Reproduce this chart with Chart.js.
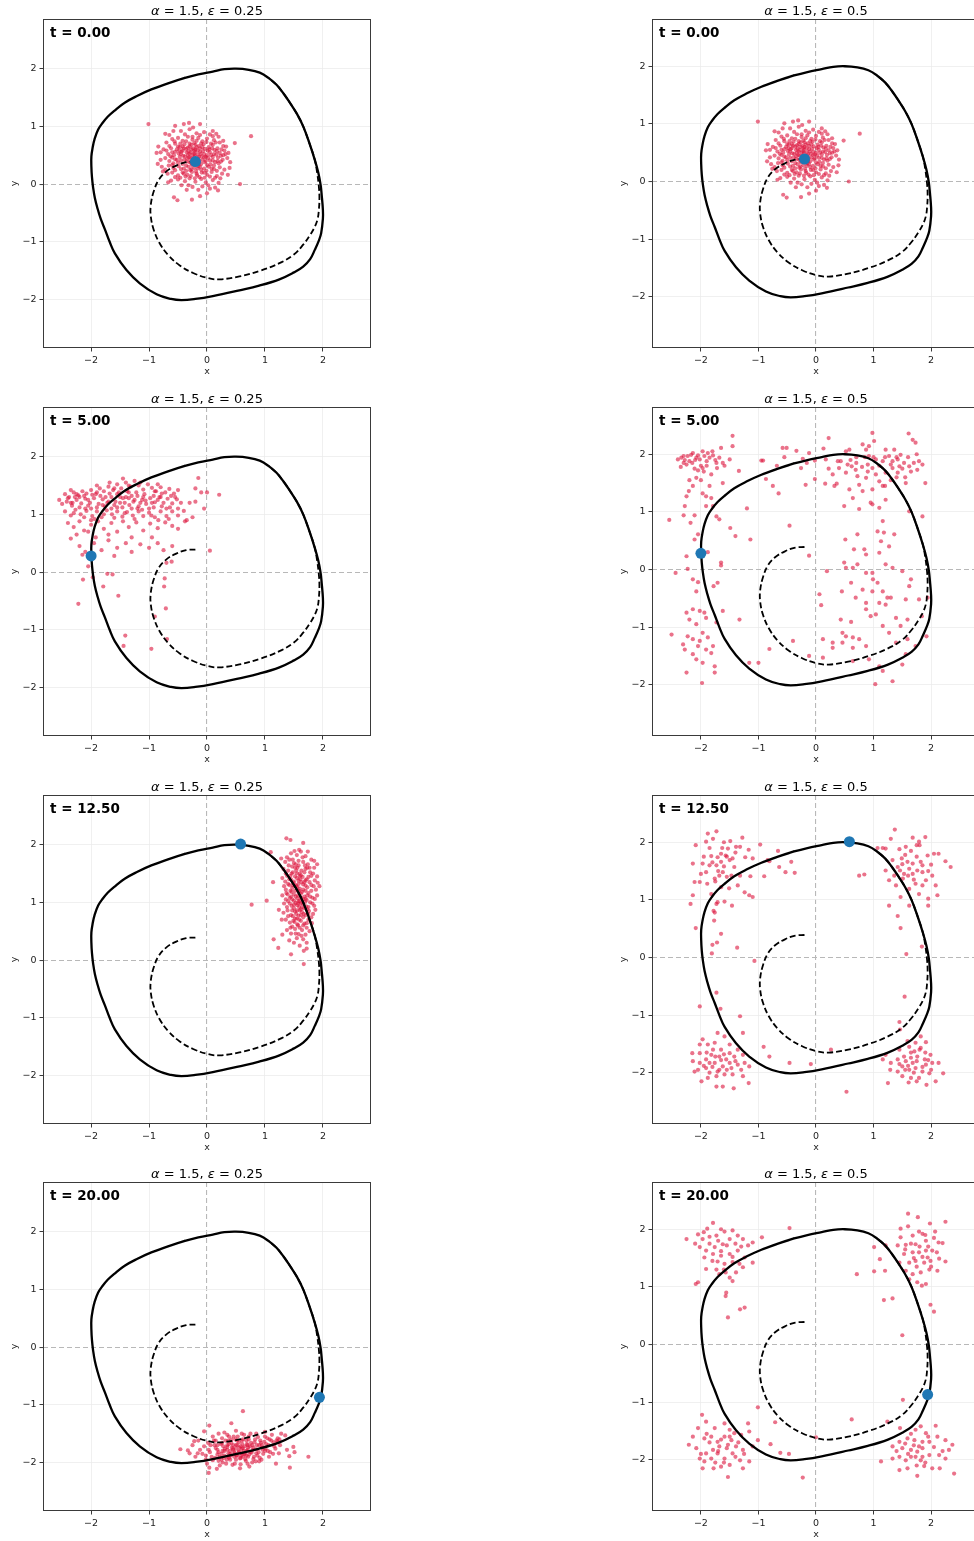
<!DOCTYPE html>
<html>
<head>
<meta charset="utf-8">
<script src="https://cdn.jsdelivr.net/npm/chart.js@4.4.1/dist/chart.umd.min.js"></script>
<style>
  html, body { margin: 0; padding: 0; background: #fff; }
  body { width: 974px; height: 1541px; overflow: hidden; position: relative; }
  canvas { position: absolute; }
</style>
</head>
<body>
<script>
// values
const alphaVals = [1.5, 1.5];
const epsVals = [0.25, 0.5];
const tVals = [0, 5, 12.5, 20];
const xTicks = [-2, -1, 0, 1, 2];
const yTicks = [-2, -1, 0, 1, 2];

// limit cycle (solid), first three points repeated at the end to close it
const limitCycle = [
  [-0.38,1.84],[-0.66,1.75],[-0.96,1.64],[-1.2,1.53],[-1.42,1.41],[-1.6,1.27],
  [-1.71,1.17],[-1.81,1.05],[-1.88,0.94],[-1.94,0.78],[-1.97,0.65],[-1.995,0.48],[-1.995,0.3],[-1.985,0.12],[-1.965,-0.06],[-1.935,-0.24],
  [-1.89,-0.42],[-1.835,-0.6],[-1.76,-0.79],[-1.68,-1.0],[-1.59,-1.2],[-1.39,-1.49],[-1.16,-1.72],[-0.87,-1.91],[-0.62,-1.99],[-0.44,-2.01],[-0.2,-1.99],[0.1,-1.94],
  [0.56,-1.84],[0.9,-1.76],[1.25,-1.65],[1.5,-1.53],[1.66,-1.43],[1.78,-1.3],[1.86,-1.14],[1.93,-0.98],[1.97,-0.85],[2.0,-0.6],
  [2.0,-0.45],[1.98,-0.2],[1.96,-0.01],[1.92,0.2],[1.86,0.42],[1.77,0.7],[1.66,1.0],[1.55,1.22],[1.43,1.41],[1.32,1.57],
  [1.2,1.72],[1.06,1.84],[0.91,1.93],[0.72,1.98],[0.5,2.0],[0.3,1.99],[0.1,1.95],[-0.15,1.9],
  [-0.38,1.84],[-0.66,1.75],[-0.96,1.64]
];

// trajectory of the mean (dashed)
const meanPath = [
  [-0.2,0.39],[-0.36,0.38],[-0.53,0.32],[-0.7,0.22],[-0.83,0.08],[-0.92,-0.13],[-0.97,-0.36],[-0.97,-0.56],
  [-0.92,-0.79],[-0.82,-1.02],[-0.67,-1.23],[-0.47,-1.41],[-0.24,-1.54],[0.02,-1.63],[0.22,-1.65],[0.56,-1.6],
  [0.92,-1.5],[1.25,-1.37],[1.5,-1.22],[1.66,-1.05],[1.78,-0.88],[1.86,-0.74],[1.91,-0.6],[1.93,-0.45],
  [1.94,-0.25],[1.93,-0.04],[1.9,0.2],[1.86,0.42],[1.77,0.7],[1.66,1.0],[1.55,1.22],[1.43,1.41],[1.32,1.57],
  [1.2,1.72],[1.06,1.84]
];

// reference point at each time
const meanPos = [[-0.2,0.39],[-2.0,0.28],[0.58,2.01],[1.94,-0.87]];

// ensemble at t = 0 (same start for both noise levels)
const cloudT0 = [
  [-1.01,1.04],[0.76,0.83],[0.48,0.71],[0.57,0.0],[-0.51,-0.28],[-0.57,-0.23],[-0.26,-0.27],[-0.12,-0.21],[0.0,-0.16],[0.19,-0.11],
  [-0.72,0.87],[-0.55,1.01],[-0.4,1.04],[-0.31,1.06],[-0.12,1.04],[0.1,0.83],[0.16,0.87],[0.33,0.65],[0.37,0.54],[0.39,0.28],
  [0.36,0.16],[-0.76,0.22],[-0.67,0.03],[-0.87,0.54],[-0.84,0.65],
  [-0.45,0.92],[-0.3,0.95],[-0.18,0.88],[-0.05,0.9],[0.05,0.86],[-0.38,0.86],
  [-0.6,0.78],[-0.5,0.8],[-0.42,0.75],[-0.33,0.82],[-0.25,0.77],[-0.15,0.8],[-0.08,0.74],[0.0,0.79],[0.12,0.76],[0.22,0.72],[-0.7,0.72],
  [-0.65,0.66],[-0.55,0.7],[-0.47,0.64],[-0.39,0.69],[-0.3,0.65],[-0.22,0.71],[-0.14,0.66],[-0.06,0.69],[0.03,0.64],[0.1,0.68],[0.18,0.62],[0.28,0.66],[-0.75,0.6],
  [-0.8,0.55],[-0.7,0.58],[-0.6,0.55],[-0.52,0.6],[-0.44,0.56],[-0.36,0.61],[-0.28,0.55],[-0.2,0.6],[-0.12,0.56],[-0.04,0.61],[0.05,0.55],[0.13,0.59],[0.22,0.54],[0.3,0.58],[-0.33,0.5],[-0.16,0.51],[0.0,0.5],
  [-0.72,0.45],[-0.63,0.48],[-0.55,0.43],[-0.47,0.47],[-0.39,0.42],[-0.31,0.46],[-0.24,0.44],[-0.14,0.47],[-0.08,0.42],[0.02,0.45],[0.1,0.41],[0.19,0.46],[0.27,0.42],[0.35,0.45],
  [-0.5,0.37],[-0.42,0.35],[-0.27,0.36],[-0.1,0.35],[0.06,0.34],[0.2,0.36],
  [-0.78,0.3],[-0.66,0.32],[-0.58,0.28],[-0.49,0.31],[-0.4,0.27],[-0.32,0.3],[-0.22,0.28],[-0.15,0.31],[-0.05,0.27],[0.03,0.3],[0.12,0.26],[0.22,0.29],[0.3,0.25],
  [-0.68,0.18],[-0.6,0.2],[-0.5,0.15],[-0.42,0.2],[-0.34,0.16],[-0.26,0.21],[-0.17,0.15],[-0.09,0.2],[0.0,0.16],[0.08,0.21],[0.17,0.14],[0.26,0.18],
  [-0.62,0.06],[-0.5,0.08],[-0.38,0.05],[-0.3,0.1],[-0.2,0.04],[-0.1,0.09],[-0.02,0.03],[0.1,0.07],[0.2,0.02],[-0.44,-0.02],[-0.25,-0.05],[-0.08,-0.04],[0.14,-0.06],[-0.35,-0.1],[0.05,-0.08],
  [-0.35,0.55],[-0.25,0.5],[-0.18,0.42],[-0.05,0.52],[-0.3,0.38],[-0.12,0.62],[-0.4,0.62],[-0.22,0.58],
  [-0.56,0.74],[-0.46,0.7],[-0.36,0.74],[-0.27,0.68],[-0.18,0.75],[-0.1,0.7],[-0.01,0.73],[0.07,0.7],[0.15,0.72],
  [-0.62,0.62],[-0.5,0.65],[-0.42,0.58],[-0.33,0.63],[-0.24,0.62],[-0.16,0.58],[-0.08,0.64],[0.01,0.58],[0.09,0.62],[0.17,0.57],[0.25,0.6],
  [-0.67,0.52],[-0.57,0.5],[-0.49,0.53],[-0.41,0.49],[-0.3,0.52],[-0.21,0.49],[-0.11,0.52],[-0.02,0.47],[0.07,0.5],[0.16,0.51],[0.24,0.49],[0.32,0.52],
  [-0.65,0.4],[-0.58,0.36],[-0.45,0.41],[-0.35,0.39],[-0.2,0.37],[-0.13,0.4],[-0.04,0.38],[0.05,0.41],[0.14,0.38],[0.24,0.39],
  [-0.72,0.25],[-0.55,0.24],[-0.45,0.26],[-0.36,0.23],[-0.27,0.26],[-0.19,0.22],[-0.1,0.25],[-0.01,0.23],[0.08,0.27],[0.17,0.23],
  [-0.55,0.12],[-0.46,0.11],[-0.37,0.13],[-0.28,0.14],[-0.21,0.1],[-0.13,0.12],[-0.04,0.11],[0.05,0.13],[0.14,0.11],[0.23,0.1],
  [-0.58,0.92],[-0.24,0.98],[0.1,0.92],[-0.65,0.85],[-0.12,0.85],[0.2,0.82],[0.28,0.75],[-0.8,0.42],[-0.85,0.35],[0.4,0.38],
  [-0.15,-0.1],[-0.32,-0.02],[0.02,-0.02],
  [-0.28,0.45],[-0.22,0.52],[-0.15,0.44],[-0.32,0.57],[-0.18,0.64],[-0.26,0.33],[-0.12,0.3],[-0.38,0.48],[-0.05,0.46],[-0.23,0.4],
  [-0.3,0.7],[-0.2,0.68],[-0.45,0.52],[-0.07,0.57],[0.1,0.47],[-0.52,0.42],[-0.36,0.32],[-0.16,0.27],[0.0,0.33],[0.12,0.52],
  [-0.42,0.65],[-0.27,0.6],[-0.34,0.44],[-0.09,0.48],[-0.21,0.55],[-0.14,0.35],[-0.29,0.24],[-0.48,0.58],[0.04,0.6],[-0.02,0.4],
  [-0.6,0.46],[-0.55,0.56],[0.18,0.4],[0.12,0.32],[-0.4,0.18],[-0.18,0.18],[-0.6,0.33],[0.28,0.5],[-0.05,0.2],[-0.25,0.82]
];

// t = 5, eps = 0.25
const cloudT5Lo = [
  [-2.55,1.25],[-2.45,1.35],[-2.38,1.3],[-2.3,1.38],[-2.22,1.33],[-2.15,1.4],[-2.08,1.36],[-2.0,1.42],[-1.92,1.35],[-1.85,1.45],
  [-1.78,1.4],[-1.7,1.48],[-1.62,1.42],[-1.55,1.52],[-1.48,1.45],[-1.4,1.55],[-1.32,1.48],[-1.25,1.58],[-1.18,1.5],[-1.1,1.43],
  [-1.02,1.52],[-0.95,1.46],[-0.88,1.4],[-0.8,1.47],[-0.72,1.38],[-0.65,1.44],[-0.57,1.36],[-0.5,1.42],[-1.45,1.62],[-1.3,1.32],[-1.68,1.55],[-2.35,1.42],
  [-2.5,1.18],[-2.42,1.22],[-2.33,1.15],[-2.25,1.25],[-2.17,1.19],[-2.1,1.27],[-2.02,1.2],[-1.95,1.28],[-1.87,1.18],[-1.8,1.26],
  [-1.72,1.2],[-1.65,1.3],[-1.58,1.22],[-1.5,1.3],[-1.42,1.2],[-1.35,1.28],[-1.27,1.22],[-1.2,1.32],[-1.12,1.25],[-1.05,1.18],
  [-0.98,1.28],[-0.9,1.21],[-0.82,1.3],[-0.75,1.2],[-0.68,1.27],[-0.6,1.19],[-0.52,1.26],[-0.45,1.2],[-1.55,1.12],[-1.3,1.1],[-1.0,1.1],[-2.0,1.1],
  [-2.45,1.05],[-2.35,0.98],[-2.27,1.08],[-2.18,1.0],[-2.08,1.06],[-1.98,0.97],[-1.9,1.05],[-1.82,0.95],[-1.73,1.07],[-1.64,1.0],
  [-1.55,1.05],[-1.46,0.96],[-1.38,1.04],[-1.28,0.98],[-1.18,1.05],[-1.1,0.97],[-1.0,1.03],[-0.9,0.95],[-0.8,1.05],[-0.7,0.97],[-0.6,1.05],[-0.5,0.98],[-0.4,1.06],
  [-2.4,0.85],[-2.3,0.78],[-2.2,0.88],[-2.12,0.72],[-2.0,0.82],[-1.88,0.88],[-1.78,0.75],[-1.65,0.85],[-1.55,0.7],[-1.45,0.88],
  [-1.35,0.78],[-1.22,0.86],[-1.1,0.72],[-0.98,0.84],[-0.85,0.76],[-0.72,0.86],[-0.6,0.8],[-0.5,0.75],[-0.38,0.88],[-0.25,0.95],[-2.25,0.65],[-1.92,0.6],
  [-2.35,0.58],[-2.2,0.45],[-2.1,0.35],[-1.95,0.5],[-1.82,0.38],[-1.7,0.55],[-1.55,0.42],[-1.4,0.5],[-1.3,0.35],[-1.15,0.48],
  [-1.0,0.42],[-0.85,0.5],[-0.75,0.38],[-0.6,0.45],[-2.15,0.3],[-1.6,0.28],
  [-0.15,1.63],[-0.2,1.45],[-0.1,1.38],[0.0,1.38],[0.21,1.34],[-0.3,1.2],[-0.05,1.1],[0.05,0.37],[-0.35,0.9],[-0.2,1.22],
  [-2.22,-0.55],[-1.53,-0.41],[-1.72,-0.03],[-1.63,-0.04],[-1.97,-0.09],[-2.14,-0.13],[-1.79,-0.25],[-2.05,0.1],[-1.41,-1.1],[-1.44,-1.28],
  [-0.96,-1.33],[-0.71,-0.63],[-0.74,-0.25],[-0.73,-0.11],[-0.7,0.16],[-0.61,0.18],[-0.69,-1.16],[-0.9,-0.77],
  [-2.4,1.28],[-2.28,1.3],[-2.12,1.32],[-1.98,1.34],[-1.84,1.32],[-1.68,1.36],[-1.52,1.38],[-1.38,1.4],[-1.22,1.38],[-1.08,1.35],[-0.92,1.32],[-0.78,1.36],[-0.62,1.32],
  [-2.32,1.2],[-2.2,1.12],[-2.05,1.15],[-1.9,1.12],[-1.76,1.14],[-1.6,1.16],[-1.46,1.12],[-1.34,1.16],[-1.18,1.14],[-1.06,1.24],[-0.92,1.12],[-0.78,1.14],[-0.64,1.12],[-0.5,1.1],
  [-2.3,1.02],[-2.12,0.95],[-1.94,0.92],[-1.78,1.0],[-1.6,0.94],[-1.42,1.02],[-1.25,0.92],[-1.12,1.08],[-0.96,0.98],[-0.84,0.9],[-0.66,0.92],
  [-1.9,1.5],[-1.6,1.45],[-1.35,1.5],[-1.15,1.55],[-0.85,1.52],[-1.75,1.3],[-1.45,1.28],[-1.15,1.2],[-0.85,1.25],[-0.55,1.3],
  [-2.0,0.9],[-1.7,0.65],[-1.3,0.6],[-0.95,0.6],[-2.05,0.7],
  [-2.2,1.3],[-2.05,1.25],[-1.9,1.38],[-1.7,1.22],[-1.55,1.35],[-1.4,1.3],[-1.25,1.25],[-1.1,1.3],[-0.95,1.2],[-0.8,1.3],
  [-2.35,1.2],[-2.1,1.1],[-1.8,1.16],[-1.5,1.2],[-1.2,1.1],[-0.9,1.4],[-0.7,1.1],[-1.65,1.1],[-2.25,1.35],[-1.35,1.38]
];

// t = 5, eps = 0.5
const cloudT5Hi = [
  [-2.4,1.91],[-2.34,1.94],[-2.28,1.9],[-2.23,1.97],[-2.17,1.99],[-2.14,2.02],[-2.08,1.94],[-2.02,1.91],[-1.97,2.05],[-1.94,1.97],
  [-1.88,2.02],[-1.85,1.94],[-1.79,1.98],[-1.73,1.85],[-1.68,1.94],[-1.62,1.85],[-1.59,1.8],[-1.5,1.91],[-1.65,2.11],[-1.45,2.14],
  [-1.45,2.32],[-2.11,1.75],[-1.97,1.76],[-2.08,1.59],[-2.2,1.55],[-2.14,1.45],[-2.25,1.27],[-2.21,1.36],[-1.97,1.32],[-1.91,1.27],
  [-1.82,1.24],[-1.82,1.65],[-1.79,1.1],[-2.28,1.1],[-2.3,0.94],[-2.11,0.94],[-2.18,0.81],[-1.91,1.1],[-1.73,0.92],[-1.68,0.87],
  [-1.62,1.5],[-1.34,1.71],[-2.55,0.86],[-2.05,0.61],[-2.11,0.52],[-2.3,1.85],[-2.2,1.88],[-2.0,1.8],[-1.9,1.88],[-2.1,1.9],[-1.75,1.9],[-2.25,1.82],[-1.95,1.7],
  [-2.3,1.97],[-2.05,1.98],[-1.8,2.05],[-2.15,1.85],[-1.9,1.8],[-2.35,1.78],[-2.05,1.72],[-1.72,1.76],[-2.0,1.55],[-1.85,1.45],
  [-2.25,0.23],[-2.23,0.01],[-2.44,-0.06],[-2.14,-0.17],[-2.05,-0.22],[-1.88,0.3],[-1.65,0.12],[-1.78,-0.29],[-1.71,-0.23],[-2.08,-0.38],
  [-1.33,-0.87],[-1.65,0.07],[-1.14,0.52],[-1.2,1.06],[-1.4,0.58],[-1.49,0.72],
  [-2.25,-0.75],[-2.2,-0.87],[-2.14,-0.69],[-2.02,-0.72],[-1.94,-0.75],[-1.91,-0.84],[-2.08,-0.95],[-2.23,-1.16],[-2.51,-1.13],[-2.14,-1.21],
  [-2.02,-1.24],[-1.97,-1.1],[-1.88,-1.18],[-1.79,-1.33],[-1.82,-1.45],[-1.97,-1.62],[-2.08,-1.56],[-2.28,-1.39],[-2.14,-1.47],[-1.76,-1.68],
  [-1.76,-1.79],[-2.25,-1.79],[-1.98,-1.97],[-1.73,-0.92],[-1.62,-0.72],[-2.31,-1.3],[-2.05,-1.33],[-1.91,-1.39],
  [-0.58,2.11],[-0.51,2.11],[-0.34,2.06],[-0.55,1.95],[-0.92,1.89],[-0.68,1.8],[-0.87,1.57],[-0.75,1.45],[-0.65,1.32],[-0.18,1.47],
  [-0.26,1.76],[-0.16,1.85],[-0.02,1.57],[-0.02,1.89],[0.13,2.1],[0.22,2.28],[0.22,1.75],[0.16,1.49],[0.36,1.49],[0.29,1.65],
  [0.43,1.88],[0.52,2.05],[0.58,2.08],[0.62,1.79],[0.69,1.73],[0.72,1.62],[0.81,2.17],[0.87,2.08],[0.92,2.14],[0.98,2.37],
  [1.01,2.23],[0.9,1.82],[0.98,1.76],[1.04,1.65],[1.1,1.53],[1.16,1.45],[0.98,1.39],[0.87,1.59],[0.75,1.47],[0.58,1.39],
  [0.64,1.24],[0.49,1.1],[0.75,1.05],[0.98,1.13],[1.21,2.08],[1.27,1.97],[1.33,1.88],[1.42,1.91],[1.45,1.79],[1.36,2.08],
  [1.47,1.99],[1.53,1.85],[1.62,1.79],[1.68,2.25],[1.61,2.36],[1.73,2.2],[1.79,1.88],[1.85,1.82],[1.76,1.73],[1.56,1.5],
  [1.9,1.5],[1.21,1.68],[1.16,1.88],[1.04,1.91],[0.38,1.88],[0.4,1.76],[0.55,1.82],[0.32,1.45],[0.17,1.91],[-0.23,1.92],
  [-0.12,2.02],[1.21,1.21],[1.1,1.07],[0.95,1.16],[1.85,0.92],[1.62,1.01],[0.81,1.36],[0.52,1.68],[1.42,1.68],[1.33,1.76],[0.92,1.97],
  [0.6,1.9],[0.7,1.85],[0.8,1.78],[0.85,1.95],[1.0,1.95],[1.1,1.8],[1.2,1.95],[1.3,1.82],[1.4,1.95],[1.5,1.75],
  [1.6,1.95],[1.7,1.85],[1.65,1.7],[1.55,1.6],[1.4,1.6],[1.3,1.55],[1.2,1.45],[0.9,1.7],[0.7,1.95],[1.75,2.0],
  [1.16,0.84],[1.07,0.66],[1.36,0.61],[1.18,0.64],[1.13,0.49],[0.72,0.61],[0.51,0.52],[0.66,0.35],[0.84,0.35],[0.87,0.26],
  [1.1,0.29],[1.27,0.4],[0.49,0.12],[0.52,0.03],[0.64,0.03],[0.72,0.09],[0.87,-0.06],[0.98,-0.06],[1.21,0.09],[1.33,0.03],
  [1.5,-0.03],[0.99,-0.17],[1.07,-0.23],[1.16,-0.38],[1.24,-0.49],[1.3,-0.49],[1.21,-0.61],[1.1,-0.58],[0.98,-0.38],[0.87,-0.58],
  [0.69,-0.49],[0.45,-0.38],[0.19,-0.03],[0.09,-0.62],[0.06,-0.43],[0.87,-0.69],[0.95,-0.81],[1.04,-0.78],[1.16,-0.98],[1.27,-1.1],
  [1.39,-0.84],[1.47,-0.98],[1.59,-0.87],[1.65,-0.17],[1.62,-0.29],[1.56,-0.52],[0.43,-0.87],[0.61,-0.91],[0.46,-1.1],[0.52,-1.16],
  [0.64,-1.18],[0.75,-1.21],[0.87,-1.33],[0.64,-1.36],[0.46,-1.27],[0.12,-1.21],[0.29,-1.27],[0.29,-1.36],[-0.12,-1.5],[0.12,-1.53],
  [0.64,-1.59],[0.92,-1.56],[1.1,-1.68],[1.16,-1.76],[1.03,-1.99],[1.33,-1.94],[1.5,-1.65],[1.56,-1.47],[1.73,-1.33],[1.92,-1.16],
  [1.84,-0.81],[1.79,-0.52],[1.94,-0.49],[1.39,-1.27],[1.59,-1.21],[0.61,-0.23],[0.81,-0.35],
  [-0.46,0.76],[-0.12,0.24],[-1.16,-1.62],[-1.0,-1.62],[-0.81,-1.38],[-0.4,-1.24],[-0.95,1.89]
];

// t = 12.5, eps = 0.25
const cloudT12Lo = [
  [1.37,2.11],[1.44,2.08],[1.66,2.03],[1.51,1.89],[1.59,1.91],[1.74,1.88],[1.1,1.87],[1.28,1.76],[1.85,1.72],[1.9,1.66],
  [1.14,1.35],[0.77,0.96],[1.03,1.03],[1.91,1.34],[1.94,1.28],[1.87,0.87],[1.15,0.36],[1.23,0.21],[1.45,0.1],[1.67,-0.07],
  [1.72,0.2],[1.3,0.44],[1.29,0.7],[1.24,0.87],
  [1.45,1.85],[1.55,1.82],[1.62,1.88],[1.7,1.8],[1.38,1.78],
  [1.35,1.7],[1.42,1.74],[1.5,1.68],[1.58,1.72],[1.66,1.7],[1.74,1.66],[1.8,1.74],[1.47,1.62],
  [1.32,1.58],[1.4,1.55],[1.48,1.52],[1.56,1.6],[1.63,1.55],[1.7,1.58],[1.78,1.52],[1.85,1.6],[1.6,1.5],
  [1.3,1.42],[1.38,1.46],[1.45,1.4],[1.52,1.45],[1.58,1.38],[1.65,1.44],[1.72,1.4],[1.8,1.46],[1.86,1.38],[1.5,1.36],[1.68,1.35],
  [1.33,1.28],[1.4,1.32],[1.47,1.25],[1.53,1.3],[1.6,1.24],[1.66,1.31],[1.73,1.26],[1.8,1.3],[1.88,1.22],[1.44,1.2],[1.57,1.2],[1.7,1.2],[1.36,1.22],
  [1.3,1.12],[1.37,1.16],[1.43,1.08],[1.5,1.14],[1.56,1.07],[1.62,1.15],[1.68,1.1],[1.75,1.16],[1.82,1.08],[1.9,1.12],[1.47,1.05],[1.6,1.02],[1.72,1.04],
  [1.33,0.98],[1.4,1.02],[1.46,0.94],[1.53,0.99],[1.59,0.92],[1.65,0.98],[1.71,0.93],[1.78,1.0],[1.85,0.94],[1.5,0.9],[1.62,0.88],
  [1.32,0.82],[1.39,0.86],[1.45,0.78],[1.52,0.84],[1.58,0.77],[1.64,0.83],[1.7,0.78],[1.76,0.85],[1.83,0.8],[1.55,0.72],
  [1.36,0.7],[1.43,0.65],[1.49,0.68],[1.56,0.62],[1.62,0.68],[1.68,0.63],[1.75,0.7],[1.81,0.64],[1.47,0.58],
  [1.38,0.52],[1.45,0.46],[1.52,0.54],[1.58,0.45],[1.64,0.52],[1.7,0.44],[1.77,0.5],[1.55,0.38],[1.66,0.36],
  [1.5,0.3],[1.6,0.25],[1.72,0.3],[1.42,0.34],[1.67,0.16],
  [1.54,1.28],[1.61,1.4],[1.57,0.98],[1.52,1.6],[1.64,1.18],[1.48,1.3],[1.68,0.9],[1.55,1.5],
  [1.41,1.64],[1.53,1.66],[1.69,1.64],[1.77,1.6],[1.36,1.5],[1.44,1.46],[1.55,1.42],[1.62,1.47],[1.75,1.44],[1.83,1.5],
  [1.35,1.36],[1.42,1.3],[1.49,1.34],[1.56,1.26],[1.63,1.35],[1.7,1.29],[1.77,1.35],[1.84,1.28],[1.39,1.14],[1.46,1.18],
  [1.53,1.1],[1.59,1.2],[1.66,1.05],[1.73,1.12],[1.8,1.2],[1.86,1.06],[1.36,1.05],[1.43,0.98],[1.5,1.03],[1.56,0.95],
  [1.62,0.98],[1.69,1.0],[1.75,0.92],[1.82,0.98],[1.38,0.92],[1.47,0.86],[1.54,0.8],[1.6,0.86],[1.67,0.8],[1.73,0.88],
  [1.8,0.74],[1.4,0.76],[1.51,0.66],[1.59,0.7],[1.66,0.74],[1.72,0.64],[1.44,0.56],[1.6,0.56],[1.72,0.56],[1.53,0.46],
  [1.63,0.42],[1.58,1.64],[1.48,1.74],[1.65,1.78],[1.9,1.45],
  [1.57,1.12],[1.62,1.08],[1.52,1.2],[1.66,1.22],[1.58,1.32],[1.5,0.96],[1.64,0.92],[1.55,0.86],[1.7,1.06],[1.45,1.1],
  [1.6,1.45],[1.68,1.52],[1.54,1.55],[1.48,0.76],[1.62,0.78],[1.75,0.8],[1.57,0.6],[1.7,1.38],[1.42,1.4],[1.58,1.02],
  [1.52,0.72],[1.66,0.6],[1.78,1.1],[1.46,1.5],[1.73,1.6]
];

// t = 12.5, eps = 0.5
const cloudT12Hi = [
  [-1.73,2.19],[-1.88,2.15],[-1.79,2.06],[-2.09,1.95],[-1.91,2.01],[-1.63,1.9],[-1.49,2.02],[-1.53,1.89],[-1.28,2.08],[-1.32,1.92],
  [-1.17,1.87],[-1.23,1.74],[-1.45,1.72],[-1.71,1.74],[-1.82,1.76],[-1.97,1.63],[-2.14,1.63],[-1.85,1.6],[-1.73,1.6],[-1.62,1.48],
  [-1.42,1.57],[-1.32,1.42],[-1.47,1.42],[-1.91,1.48],[-2.11,1.31],[-2.02,1.31],[-1.89,1.28],[-1.65,1.22],[-1.51,1.2],[-1.36,1.25],
  [-1.24,1.13],[-2.14,1.08],[-2.18,0.93],[-1.82,1.1],[-1.71,0.96],[-1.59,0.97],[-1.46,0.9],[-1.68,1.42],[-1.76,1.37],[-1.57,1.77],
  [-1.39,1.92],[-1.1,1.72],[-0.84,1.69],[-1.78,0.81],[-1.14,1.41],[-1.5,1.69],[-1.65,1.66],
  [-1.8,1.65],[-1.7,1.5],[-1.6,1.58],[-1.55,1.75],[-1.95,1.75],[-1.85,1.9],[-1.65,1.8],[-1.4,1.82],[-1.75,1.32],[-1.55,1.4],[-2.0,1.45],[-1.6,2.0],
  [1.37,2.22],[1.68,2.08],[1.75,1.95],[1.9,2.09],[1.79,2.01],[1.56,1.92],[1.49,1.72],[1.42,1.57],[1.33,1.69],[1.21,1.51],
  [1.27,1.34],[1.39,1.25],[1.51,1.37],[1.62,1.54],[1.68,1.63],[1.76,1.51],[1.82,1.66],[1.94,1.77],[2.0,1.61],[2.13,1.8],
  [2.25,1.67],[2.34,1.57],[2.02,1.42],[1.91,1.34],[1.73,1.28],[1.62,1.19],[1.79,1.1],[1.95,1.02],[2.11,1.08],[1.95,0.9],
  [1.62,0.9],[1.47,1.05],[1.53,1.45],[1.68,1.45],[1.59,1.66],[1.46,1.51],[1.21,1.89],[1.3,2.06],[1.07,1.9],[1.16,1.9],
  [2.08,1.25],[1.85,1.48],[1.36,1.42],
  [1.55,1.78],[1.65,1.85],[1.75,1.75],[1.85,1.6],[1.95,1.5],[1.7,1.35],[1.6,1.42],[1.85,1.25],[1.5,1.62],[2.05,1.8],[1.8,1.95],[1.45,1.88],
  [-1.97,-1.42],[-2.02,-1.51],[-1.88,-1.51],[-1.76,-1.48],[-1.71,-1.31],[-1.59,-1.37],[-1.5,-1.51],[-1.36,-1.6],[-1.27,-1.69],[-1.42,-1.72],
  [-1.56,-1.77],[-1.68,-1.72],[-1.82,-1.69],[-1.91,-1.77],[-2.02,-1.83],[-2.14,-1.8],[-2.15,-1.66],[-2.05,-1.95],[-1.91,-1.92],[-1.76,-1.83],
  [-1.62,-1.89],[-1.47,-1.92],[-1.36,-1.86],[-1.24,-1.83],[-1.16,-1.89],[-1.45,-2.03],[-1.59,-2.03],[-1.73,-2.06],[-1.88,-2.09],[-1.99,-2.15],
  [-1.73,-2.24],[-1.43,-2.27],[-1.62,-2.24],[-1.17,-2.18],[-1.79,-1.6],[-1.65,-1.6],[-2.11,-1.98],[-1.27,-2.06],[-1.85,-1.83],[-1.5,-1.83],
  [-1.71,-1.98],[-2.02,-1.66],
  [-1.8,-1.9],[-1.65,-1.78],[-1.55,-1.95],[-1.9,-1.65],[-1.75,-1.72],[-1.6,-1.68],[-1.85,-2.0],[-1.4,-1.8],[-1.5,-1.66],[-1.95,-1.88],[-1.68,-1.95],[-1.3,-1.95],
  [1.45,-1.6],[1.59,-1.45],[1.62,-1.55],[1.73,-1.48],[1.82,-1.57],[1.91,-1.47],[1.53,-1.72],[1.42,-1.77],[1.3,-1.83],[1.21,-1.69],
  [1.65,-1.74],[1.76,-1.72],[1.89,-1.77],[2.02,-1.83],[2.13,-1.83],[1.99,-1.69],[1.5,-1.89],[1.62,-1.95],[1.73,-1.92],[1.85,-1.98],
  [1.97,-2.01],[2.21,-2.01],[1.42,-1.98],[1.29,-1.95],[1.5,-2.06],[1.65,-2.09],[1.79,-2.09],[1.92,-2.21],[2.08,-2.15],[1.61,-2.17],
  [1.68,-1.83],[1.56,-1.8],[1.91,-1.86],[1.71,-1.63],[1.82,-1.37],[1.16,-1.77],[1.25,-2.18],
  [1.6,-1.88],[1.75,-1.8],[1.85,-1.9],[1.7,-2.0],[1.55,-1.95],[1.9,-1.65],[1.8,-1.6],[1.65,-1.65],[2.0,-1.95],[1.45,-1.85],[1.75,-2.15],[1.95,-1.78],
  [0.75,1.42],[0.84,1.44],[-0.37,1.47],[-0.43,1.66],[-0.53,1.48],[-0.64,1.57],[-0.66,1.85],[-0.81,1.67],[-0.9,1.41],[-0.97,1.96],
  [-1.1,1.05],[-1.16,1.08],[-1.73,0.93],[-1.77,0.64],[-1.76,0.78],[-2.09,0.51],[-1.65,0.41],[-1.72,0.26],[-1.8,0.22],[-1.37,0.17],
  [-1.81,0.07],[-1.07,-0.06],[-1.73,-0.61],[-2.02,-0.85],[-1.66,-0.89],[-1.32,-1.02],[-1.27,-1.31],[-0.91,-1.55],[-0.81,-1.72],[-0.46,-1.83],
  [-0.09,-1.85],[0.26,-1.6],[0.53,-2.33],[1.27,0.9],[1.42,0.72],[1.47,0.51],[1.57,0.06],[1.84,0.19],[1.54,-0.68],[1.45,-1.12],[1.46,-1.25]
];

// t = 20, eps = 0.25
const cloudT20Lo = [
  [0.62,-1.11],[0.42,-1.32],[0.04,-1.36],[-0.05,-1.46],[-0.22,-1.63],[-0.46,-1.77],[-0.33,-1.79],[1.35,-1.53],[1.22,-1.64],[1.38,-1.78],
  [1.49,-1.73],[1.51,-1.82],[1.42,-1.89],[1.75,-1.9],[1.43,-2.09],[1.19,-2.02],[0.04,-2.09],[0.03,-2.18],[0.17,-2.11],[0.57,-2.1],
  [0.73,-2.07],[-0.16,-1.84],[-0.25,-1.7],
  [-0.08,-1.85],[-0.02,-1.95],[0.03,-1.78],[0.08,-1.9],[0.0,-2.02],[0.06,-1.7],[-0.05,-1.72],
  [0.12,-1.62],[0.15,-1.75],[0.18,-1.86],[0.2,-1.97],[0.24,-1.68],[0.27,-1.8],[0.22,-2.05],[0.14,-1.92],[0.29,-1.92],[0.26,-1.58],
  [0.32,-1.62],[0.35,-1.73],[0.37,-1.84],[0.4,-1.95],[0.42,-1.66],[0.45,-1.78],[0.47,-1.9],[0.33,-2.02],[0.44,-2.04],[0.38,-1.55],[0.49,-1.6],[0.36,-1.9],
  [0.52,-1.7],[0.55,-1.82],[0.57,-1.93],[0.6,-1.62],[0.62,-1.75],[0.65,-1.86],[0.67,-1.97],[0.53,-1.55],[0.69,-1.68],[0.58,-2.03],[0.64,-1.52],[0.51,-1.88],
  [0.72,-1.6],[0.74,-1.72],[0.77,-1.83],[0.8,-1.94],[0.82,-1.65],[0.85,-1.77],[0.87,-1.88],[0.75,-1.5],[0.88,-1.56],[0.78,-2.0],[0.84,-1.98],[0.71,-1.9],
  [0.92,-1.62],[0.95,-1.74],[0.97,-1.85],[1.0,-1.55],[1.02,-1.68],[1.05,-1.8],[1.08,-1.6],[0.94,-1.95],[1.07,-1.9],[1.0,-1.47],
  [1.12,-1.52],[1.15,-1.65],[1.18,-1.76],[1.22,-1.58],[1.26,-1.7],[1.28,-1.5],[1.14,-1.85],[1.24,-1.84],
  [-0.15,-1.62],[-0.12,-1.78],[-0.2,-1.9],[-0.3,-1.84],[0.1,-1.55],[0.2,-1.5],[0.3,-1.48],[0.5,-1.45],
  [0.4,-1.8],[0.5,-1.76],[0.6,-1.84],[0.7,-1.78],[0.3,-1.88],[0.45,-1.7],[0.55,-1.65],[0.65,-1.72],[0.35,-1.78],[0.25,-1.85],
  [0.58,-1.72],[0.48,-1.84],[0.68,-1.8],[0.78,-1.7],[0.38,-1.68],[0.9,-1.7],[0.28,-1.72],[0.62,-1.9],
  [0.05,-1.82],[0.1,-1.96],[0.13,-1.7],[0.18,-1.78],[0.22,-1.9],[0.26,-1.66],[0.31,-1.76],[0.34,-1.95],[0.37,-1.62],[0.41,-1.88],
  [0.43,-1.74],[0.47,-1.82],[0.5,-1.95],[0.52,-1.62],[0.56,-1.74],[0.59,-1.88],[0.61,-1.68],[0.63,-1.8],[0.66,-1.94],[0.68,-1.62],
  [0.71,-1.74],[0.73,-1.86],[0.76,-1.66],[0.79,-1.78],[0.81,-1.9],[0.83,-1.6],[0.86,-1.7],[0.89,-1.82],[0.91,-1.92],[0.93,-1.66],
  [0.96,-1.78],[0.99,-1.64],[1.01,-1.76],[1.04,-1.58],[1.06,-1.7],[1.09,-1.82],[1.11,-1.62],[1.16,-1.72],[1.2,-1.62],[1.25,-1.6],
  [0.27,-2.0],[0.48,-2.02],[0.7,-2.02],[0.9,-1.98],[0.15,-1.62],[0.35,-1.52],[0.6,-1.5],[0.85,-1.5],[-0.02,-1.88],[0.02,-1.66],
  [0.45,-1.76],[0.55,-1.8],[0.6,-1.76],[0.5,-1.7],[0.65,-1.84],[0.4,-1.85],[0.7,-1.7],[0.35,-1.7],[0.58,-1.92],[0.75,-1.82],
  [0.3,-1.8],[0.8,-1.74],[0.42,-1.6],[0.62,-1.6],[0.52,-1.88],[0.2,-1.82],[0.95,-1.7],[0.85,-1.84],[0.25,-1.95],[0.68,-1.88],
  [0.18,-1.7],[0.38,-1.92],[1.0,-1.8],[0.72,-1.55],[0.46,-1.55]
];

// t = 20, eps = 0.5
const cloudT20Hi = [
  [-1.79,2.11],[-1.89,2.01],[-2.05,1.91],[-2.25,1.83],[-1.97,1.83],[-1.85,1.87],[-1.73,1.89],[-1.59,1.96],[-1.45,1.98],[-1.36,1.89],
  [-1.27,1.83],[-1.18,1.72],[-1.1,1.77],[-0.94,1.86],[-1.5,1.83],[-1.62,1.74],[-1.76,1.69],[-1.91,1.63],[-2.02,1.69],[-1.94,1.51],
  [-1.79,1.57],[-1.65,1.54],[-1.5,1.57],[-1.36,1.63],[-1.24,1.51],[-1.1,1.42],[-1.33,1.4],[-1.45,1.43],[-1.59,1.4],[-1.71,1.44],
  [-1.91,1.31],[-1.73,1.3],[-1.57,1.25],[-1.39,1.25],[-1.5,1.16],[-1.45,1.1],[-1.68,1.22],[-2.05,1.08],[-2.09,1.05],[-1.27,1.34],
  [-1.56,0.9],[-1.57,0.84],[-1.32,0.61],[-1.24,0.64],[-1.53,0.47],[-0.46,2.02],
  [-1.7,1.8],[-1.55,1.72],[-1.4,1.75],[-1.85,1.75],[-1.65,1.62],[-1.45,1.52],[-1.8,1.45],[-1.6,1.3],[-1.95,1.95],[-1.65,2.0],[-1.3,1.7],[-2.1,1.75],
  [1.6,2.27],[1.77,2.21],[1.98,2.1],[2.25,2.13],[1.47,1.86],[1.56,1.73],[1.68,1.89],[1.79,1.96],[1.85,1.92],[1.91,1.8],
  [2.07,1.96],[2.13,1.77],[2.2,1.76],[2.02,1.63],[1.91,1.63],[1.79,1.6],[1.68,1.6],[1.53,1.57],[1.42,1.72],[1.21,1.72],
  [1.01,1.69],[1.11,1.48],[1.45,1.42],[1.62,1.42],[1.73,1.45],[1.88,1.42],[1.99,1.45],[2.14,1.49],[2.25,1.44],[2.11,1.28],
  [1.97,1.3],[1.82,1.25],[1.68,1.22],[1.56,1.28],[1.76,1.08],[1.91,1.05],[1.62,1.13],[1.01,1.27],[1.2,1.28],[1.47,2.01],
  [1.73,1.74],[1.94,1.51],[0.71,1.22],[1.18,0.77],[1.33,0.8],[1.5,0.16],[1.99,0.69],[2.05,0.57],[1.84,1.02],
  [1.65,1.75],[1.8,1.7],[1.95,1.7],[2.05,1.85],[1.9,1.9],[1.7,1.5],[1.85,1.52],[2.0,1.35],[1.75,1.35],[1.6,2.05],[2.1,1.6],[1.55,1.65],
  [-1.98,-1.22],[-1.91,-1.34],[-2.05,-1.45],[-2.21,-1.74],[-2.08,-1.8],[-1.94,-1.63],[-1.82,-1.6],[-1.76,-1.45],[-1.59,-1.37],[-1.5,-1.48],
  [-1.42,-1.54],[-1.3,-1.57],[-1.18,-1.37],[-1.16,-1.51],[-1.01,-1.66],[-1.1,-1.77],[-1.27,-1.83],[-1.39,-1.77],[-1.53,-1.74],[-1.68,-1.77],
  [-1.79,-1.83],[-1.91,-1.89],[-2.02,-1.98],[-1.94,-2.03],[-1.82,-1.98],[-1.71,-1.89],[-1.59,-1.98],[-1.45,-1.89],[-1.32,-2.01],[-1.16,-2.03],
  [-1.5,-2.09],[-1.65,-2.12],[-1.78,-2.15],[-1.97,-2.15],[-1.53,-2.3],[-1.27,-2.15],[-1.59,-1.6],[-1.71,-1.69],[-1.47,-1.66],[-2.14,-1.6],
  [-1.7,-1.85],[-1.55,-1.8],[-1.4,-1.95],[-1.85,-1.7],[-1.65,-1.65],[-1.5,-1.6],[-1.75,-2.05],[-1.35,-1.7],[-1.6,-2.05],[-1.9,-1.55],[-1.25,-1.9],[-2.0,-1.9],
  [-1.01,-1.09],[-0.71,-1.35],[-0.79,-1.73],[-0.62,-1.88],[-0.47,-1.9],[-0.23,-2.31],[0.0,-1.61],[0.62,-1.3],[1.51,-0.96],
  [1.46,-1.45],[1.73,-1.48],[1.82,-1.42],[1.91,-1.54],[2.08,-1.41],[2.11,-1.6],[2.25,-1.66],[2.37,-1.74],[1.97,-1.69],[1.85,-1.69],
  [1.71,-1.66],[1.59,-1.63],[1.45,-1.69],[1.33,-1.77],[1.5,-1.8],[1.65,-1.83],[1.76,-1.86],[1.73,-1.95],[1.82,-2.01],[1.65,-1.95],
  [1.56,-2.01],[1.45,-1.95],[1.33,-1.98],[1.97,-1.92],[2.14,-1.92],[2.25,-1.98],[2.31,-1.83],[2.02,-2.15],[2.15,-2.15],[2.4,-2.24],
  [1.76,-2.28],[1.45,-2.18],[1.59,-2.15],[1.88,-2.11],[1.13,-2.03],[1.24,-1.34],[1.79,-1.77],
  [1.7,-1.75],[1.85,-1.8],[1.95,-1.6],[1.6,-1.9],[1.75,-2.1],[1.9,-2.05],[2.05,-1.78],[1.55,-1.72],[1.65,-1.55],[2.2,-1.85],[1.4,-1.85],[1.85,-1.95]
];

const panelClouds = [
  [cloudT0, cloudT0],
  [cloudT5Lo, cloudT5Hi],
  [cloudT12Lo, cloudT12Hi],
  [cloudT20Lo, cloudT20Hi]
];

// axis limits of the two columns
const xLim = [[-2.83, 2.83], [-2.85, 2.85]];
const yLim = [[-2.84, 2.86], [-2.89, 2.82]];

const FONT = '"DejaVu Sans", "Liberation Sans", sans-serif';
const toXY = arr => arr.map(p => ({x: p[0], y: p[1]}));
const fmtTick = v => (v < 0 ? '\u2212' + Math.abs(v) : String(v));

const panelDecor = {
  id: 'panelDecor',
  afterDraw(chart, args, opts) {
    const {ctx, chartArea: a} = chart;
    ctx.save();
    // frame
    ctx.strokeStyle = '#3a3a3a';
    ctx.lineWidth = 1;
    ctx.strokeRect(a.left + 0.5, a.top + 0.5, a.right - a.left - 1, a.bottom - a.top - 1);
    // time label
    ctx.fillStyle = '#000';
    ctx.textBaseline = 'alphabetic';
    ctx.textAlign = 'left';
    ctx.font = 'bold 13.5px ' + FONT;
    ctx.fillText('t = ' + opts.t.toFixed(2), a.left + 7, a.top + 17.6);
    // title, greek letters in italic
    const parts = [
      ['\u03b1', true], [' = ' + opts.alpha + ', ', false],
      ['\u03b5', true], [' = ' + opts.eps, false]
    ];
    const fN = '13px ' + FONT, fI = 'italic 13px ' + FONT;
    let w = 0;
    parts.forEach(p => { ctx.font = p[1] ? fI : fN; w += ctx.measureText(p[0]).width; });
    let x = (a.left + a.right) / 2 - w / 2;
    parts.forEach(p => {
      ctx.font = p[1] ? fI : fN;
      ctx.fillText(p[0], x, a.top - 4.3);
      x += ctx.measureText(p[0]).width;
    });
    ctx.restore();
  }
};

function makeAxis(lim, ticks, label, isX) {
  return {
    type: 'linear',
    min: lim[0],
    max: lim[1],
    afterBuildTicks: s => { s.ticks = ticks.map(v => ({value: v})); },
    afterFit: s => { if (isX) s.height = 40; else s.width = 43; },
    ticks: {
      callback: v => fmtTick(v),
      color: '#222',
      font: {family: FONT, size: 9.5},
      padding: 3,
      maxRotation: 0,
      autoSkip: false
    },
    grid: {
      color: c => (c.tick && c.tick.value === 0 ? '#b8b8b8' : '#ececec'),
      lineWidth: c => (c.tick && c.tick.value === 0 ? 1.1 : 0.8),
      tickColor: '#3a3a3a',
      tickLength: 3.5,
      tickWidth: 1
    },
    border: {
      display: false,
      dash: c => (c.tick && c.tick.value === 0 ? [5, 3] : [])
    },
    title: {
      display: true,
      text: label,
      color: '#222',
      font: {family: FONT, size: 9.5},
      padding: isX ? {top: 0, bottom: 10.6} : {top: 8.5, bottom: 0}
    }
  };
}

const rowTops = [0, 388, 776, 1163];
const colLefts = [0, 609];

for (let r = 0; r < 4; r++) {
  for (let c = 0; c < 2; c++) {
    const cv = document.createElement('canvas');
    cv.width = 380;
    cv.height = 388;
    cv.style.left = colLefts[c] + 'px';
    cv.style.top = rowTops[r] + 'px';
    cv.style.width = '380px';
    cv.style.height = '388px';
    document.body.appendChild(cv);

    new Chart(cv, {
      type: 'scatter',
      data: {
        datasets: [
          {
            data: toXY([meanPos[r]]),
            pointRadius: 5.5,
            pointBackgroundColor: '#1f77b4',
            pointBorderWidth: 0
          },
          {
            data: toXY(limitCycle),
            showLine: true,
            pointRadius: 0,
            borderColor: '#000',
            borderWidth: 2.3,
            tension: 0.4
          },
          {
            data: toXY(meanPath),
            showLine: true,
            pointRadius: 0,
            borderColor: '#000',
            borderWidth: 1.8,
            borderDash: [6, 3],
            tension: 0.4
          },
          {
            data: toXY(panelClouds[r][c]),
            pointRadius: 2.1,
            pointBackgroundColor: 'rgba(220, 20, 60, 0.6)',
            pointBorderWidth: 0
          }
        ]
      },
      options: {
        responsive: false,
        animation: false,
        devicePixelRatio: 1,
        layout: {padding: {top: 19, right: 9, left: 0, bottom: 0}},
        scales: {
          x: makeAxis(xLim[c], xTicks, 'x', true),
          y: makeAxis(yLim[c], yTicks, 'y', false)
        },
        plugins: {
          legend: {display: false},
          tooltip: {enabled: false},
          panelDecor: {t: tVals[r], alpha: alphaVals[c], eps: epsVals[c]}
        }
      },
      plugins: [panelDecor]
    });
  }
}
</script>
</body>
</html>
